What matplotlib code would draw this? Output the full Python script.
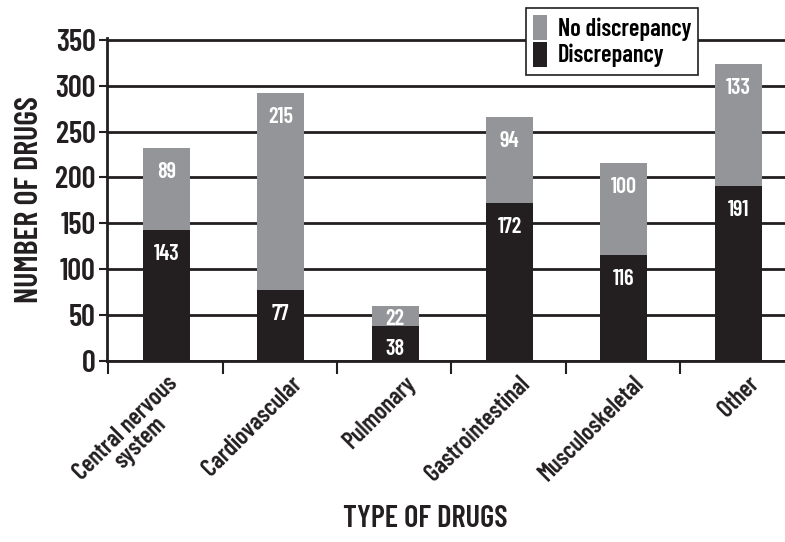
import numpy as np
import matplotlib
matplotlib.use("Agg")
import matplotlib.pyplot as plt
import matplotlib.transforms as mtransforms

categories = ["Central nervous\nsystem", "Cardiovascular", "Pulmonary",
              "Gastrointestinal", "Musculoskeletal", "Other"]
discrepancy = [143, 77, 38, 172, 116, 191]
no_discrepancy = [89, 215, 22, 94, 100, 133]

plt.rcParams['font.family'] = ['Barlow Condensed', 'DejaVu Sans']
plt.rcParams['font.weight'] = 600

gray = "#939598"
black = "#231f20"

fig = plt.figure(figsize=(7.85, 5.42), dpi=100)
ax = fig.add_axes([0.136, 0.334, 0.864, 0.595])

x = np.arange(len(categories))
w = 0.41
b1 = ax.bar(x, discrepancy, w, color=black, label="Discrepancy", zorder=3)
b2 = ax.bar(x, no_discrepancy, w, bottom=discrepancy, color=gray,
            label="No discrepancy", zorder=3)

ax.set_xlim(-0.523, 5.41)
ax.set_ylim(0, 351.5)

# value labels near the top of each segment (closer in for short segments)
px_per_unit = 0.595 * 542 / 351.5
def seg_label(xi, top, val):
    dy = min(24, 0.65 * val * px_per_unit)
    tr = mtransforms.offset_copy(ax.transData, fig=fig, x=0, y=-dy, units="dots")
    ax.text(xi, top, str(val), color="white", ha="center", va="center",
            fontsize=16, fontweight=600, transform=tr, zorder=4)

for i in range(len(x)):
    seg_label(x[i], discrepancy[i], discrepancy[i])
    seg_label(x[i], discrepancy[i] + no_discrepancy[i], no_discrepancy[i])

ax.set_yticks(range(0, 351, 50))
ax.yaxis.grid(True, color=black, linewidth=2, zorder=1)
ax.set_axisbelow(True)
ax.tick_params(axis="y", labelsize=22, length=6, width=1.5, pad=2,
               colors=black)

ax.set_xticks(np.arange(6) - 0.51)
ax.set_xticklabels([])
ax.tick_params(axis="x", length=9, width=1.5, direction="out", colors=black)

# rotated category labels
for i, name in enumerate(categories):
    dx = -1 if "\n" in name else 9
    tr = mtransforms.offset_copy(ax.transData, fig=fig, x=dx, y=-11, units="dots")
    ax.text(x[i], 0, name, rotation=45, rotation_mode="anchor", ha="right",
            va="top", multialignment="center", fontsize=17.5, fontweight=600,
            linespacing=0.85, transform=tr, color=black)

for s in ["top", "right"]:
    ax.spines[s].set_visible(False)
ax.spines["left"].set_linewidth(2)
ax.spines["bottom"].set_linewidth(2)
ax.spines["left"].set_color(black)
ax.spines["bottom"].set_color(black)

ax.set_ylabel("NUMBER OF DRUGS", fontsize=23, fontweight=600, labelpad=8,
              color=black)
fig.text(0.542, 0.028, "TYPE OF DRUGS", ha="center", va="baseline",
         fontsize=22, fontweight=600, color=black)

leg = fig.legend([b2, b1], ["No discrepancy", "Discrepancy"],
                 loc="upper left", bbox_to_anchor=(0.670, 0.986),
                 fontsize=17.5, frameon=True, fancybox=False, edgecolor=black,
                 framealpha=1, handlelength=0.55, handleheight=1.2,
                 handletextpad=0.45, borderpad=0.3, labelspacing=0.05,
                 borderaxespad=0)
leg.get_frame().set_linewidth(1.2)

fig.savefig("out.png", dpi=100)
